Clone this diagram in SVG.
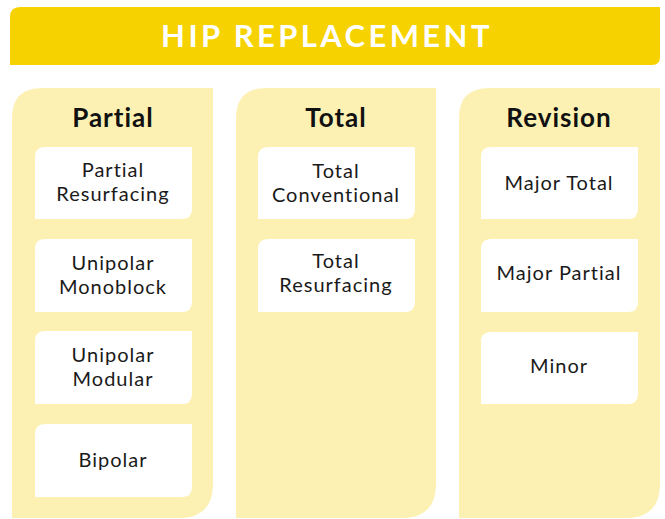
<svg xmlns="http://www.w3.org/2000/svg" width="665" height="519" viewBox="0 0 665 519">
<style>
.hdr{fill:#F6D200}
.col{fill:#FCF1B3}
.box{fill:#FFFFFF}
.title{font-family:Lato,"Liberation Sans",sans-serif;font-weight:700;font-size:31px;fill:#FFFFFF;letter-spacing:3.4px;text-anchor:middle}
.ch{font-family:Lato,"Liberation Sans",sans-serif;font-weight:700;font-size:26px;fill:#111111;letter-spacing:1px;text-anchor:middle}
.bt{font-family:Lato,"Liberation Sans",sans-serif;font-size:20px;fill:#1a1a1a;letter-spacing:1px;text-anchor:middle}
</style>
<rect width="665" height="519" fill="#FFFFFF"/>
<g id="header">
<path class="hdr" d="M20,7 H660 V57 Q660,65 652,65 H10 V17 Q10,7 20,7 Z"/>
<text class="title" x="327" y="47">HIP REPLACEMENT</text>
</g>
<g id="col-partial">
<path class="col" d="M42,88 H213 V484 Q213,518 179,518 H12 V118 Q12,88 42,88 Z"/>
<text class="ch" x="113" y="127">Partial</text>
</g>
<g id="col-total">
<path class="col" d="M266,88 H436 V484 Q436,518 402,518 H236 V118 Q236,88 266,88 Z"/>
<text class="ch" x="336" y="127">Total</text>
</g>
<g id="col-revision">
<path class="col" d="M489,88 H660 V484 Q660,518 626,518 H459 V118 Q459,88 489,88 Z"/>
<text class="ch" x="559" y="127">Revision</text>
</g>
<g id="partial-resurfacing">
<path class="box" d="M45,147 H192 V209 Q192,219 182,219 H35 V157 Q35,147 45,147 Z"/>
<text class="bt" x="113" y="177">Partial</text>
<text class="bt" x="113" y="201">Resurfacing</text>
</g>
<g id="unipolar-monoblock">
<path class="box" d="M45,239 H192 V302 Q192,312 182,312 H35 V249 Q35,239 45,239 Z"/>
<text class="bt" x="113" y="270">Unipolar</text>
<text class="bt" x="113" y="294">Monoblock</text>
</g>
<g id="unipolar-modular">
<path class="box" d="M45,331 H192 V394 Q192,404 182,404 H35 V341 Q35,331 45,331 Z"/>
<text class="bt" x="113" y="362">Unipolar</text>
<text class="bt" x="113" y="386">Modular</text>
</g>
<g id="bipolar">
<path class="box" d="M45,424 H192 V487 Q192,497 182,497 H35 V434 Q35,424 45,424 Z"/>
<text class="bt" x="113" y="467">Bipolar</text>
</g>
<g id="total-conventional">
<path class="box" d="M268,147 H415 V209 Q415,219 405,219 H258 V157 Q258,147 268,147 Z"/>
<text class="bt" x="336" y="178">Total</text>
<text class="bt" x="336" y="202">Conventional</text>
</g>
<g id="total-resurfacing">
<path class="box" d="M268,239 H415 V302 Q415,312 405,312 H258 V249 Q258,239 268,239 Z"/>
<text class="bt" x="336" y="268">Total</text>
<text class="bt" x="336" y="292">Resurfacing</text>
</g>
<g id="major-total">
<path class="box" d="M491,147 H638 V209 Q638,219 628,219 H481 V157 Q481,147 491,147 Z"/>
<text class="bt" x="559" y="190">Major Total</text>
</g>
<g id="major-partial">
<path class="box" d="M491,239 H638 V302 Q638,312 628,312 H481 V249 Q481,239 491,239 Z"/>
<text class="bt" x="559" y="280">Major Partial</text>
</g>
<g id="minor">
<path class="box" d="M491,332 H638 V394 Q638,404 628,404 H481 V342 Q481,332 491,332 Z"/>
<text class="bt" x="559" y="373">Minor</text>
</g>
<g id="connectors"></g>
</svg>
